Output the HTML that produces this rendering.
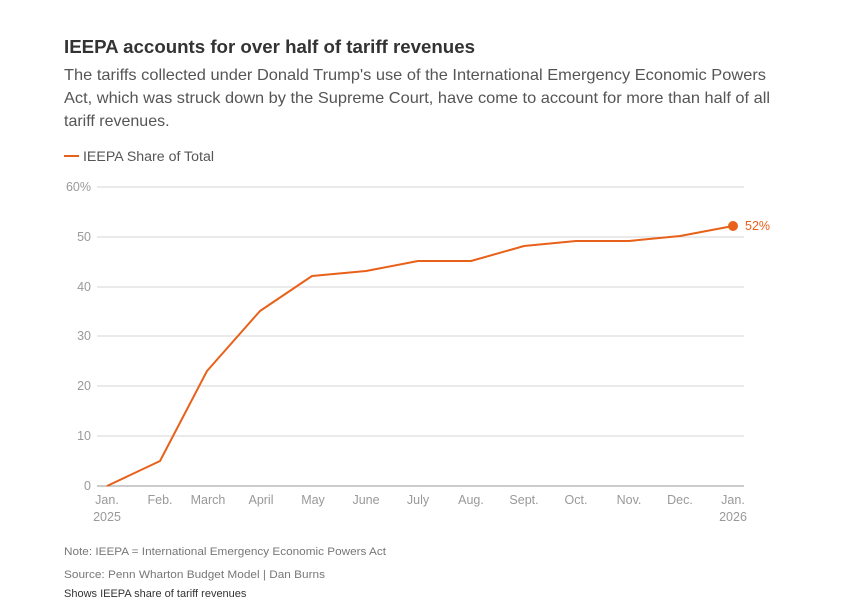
<!DOCTYPE html>
<html><head><meta charset="utf-8"><style>
body{margin:0;background:#fff;}
svg{display:block;font-family:"Liberation Sans",sans-serif;}
</style></head><body>
<svg width="842" height="602" viewBox="0 0 842 602" xmlns="http://www.w3.org/2000/svg">
<rect width="842" height="602" fill="#fff"/>
<text x="64" y="53" font-size="18.5" font-weight="bold" fill="#333" textLength="411" lengthAdjust="spacingAndGlyphs">IEEPA accounts for over half of tariff revenues</text>
<g font-size="16" fill="#555">
<text x="64" y="80" textLength="702" lengthAdjust="spacingAndGlyphs">The tariffs collected under Donald Trump's use of the International Emergency Economic Powers</text>
<text x="64" y="103" textLength="706" lengthAdjust="spacingAndGlyphs">Act, which was struck down by the Supreme Court, have come to account for more than half of all</text>
<text x="64" y="126">tariff revenues.</text>
</g>
<line x1="64" y1="156" x2="79" y2="156" stroke="#e8611a" stroke-width="2"/>
<text x="83" y="161" font-size="13.5" fill="#555" textLength="131" lengthAdjust="spacingAndGlyphs">IEEPA Share of Total</text>
<g stroke="#d6d6d6" stroke-width="1">
<line x1="97" y1="187" x2="744" y2="187"/>
<line x1="97" y1="237" x2="744" y2="237"/>
<line x1="97" y1="287" x2="744" y2="287"/>
<line x1="97" y1="336" x2="744" y2="336"/>
<line x1="97" y1="386" x2="744" y2="386"/>
<line x1="97" y1="436" x2="744" y2="436"/>
</g>
<line x1="97" y1="486" x2="744" y2="486" stroke="#999" stroke-width="1"/>
<g font-size="12.5" fill="#999" text-anchor="end">
<text x="91" y="191">60%</text>
<text x="91" y="241">50</text>
<text x="91" y="291">40</text>
<text x="91" y="340">30</text>
<text x="91" y="390">20</text>
<text x="91" y="440">10</text>
<text x="91" y="490">0</text>
</g>
<g font-size="12.5" fill="#999" text-anchor="middle">
<text x="107" y="504">Jan.</text><text x="107" y="521">2025</text>
<text x="160" y="504">Feb.</text>
<text x="208" y="504">March</text>
<text x="261" y="504">April</text>
<text x="313" y="504">May</text>
<text x="366" y="504">June</text>
<text x="418" y="504">July</text>
<text x="471" y="504">Aug.</text>
<text x="524" y="504">Sept.</text>
<text x="576" y="504">Oct.</text>
<text x="629" y="504">Nov.</text>
<text x="680" y="504">Dec.</text>
<text x="733" y="504">Jan.</text><text x="733" y="521">2026</text>
</g>
<polyline fill="none" stroke="#e8611a" stroke-width="2" stroke-linejoin="round" points="107,486 160,461 207,371 260,311 312,276 366,271 418,261 471,261 524,246 576,241 629,241 680,236 733,226"/>
<circle cx="733" cy="226" r="5" fill="#e8611a"/>
<text x="745" y="230" font-size="12.5" fill="#e8611a">52%</text>
<g font-size="11" fill="#777">
<text x="64" y="555" textLength="322" lengthAdjust="spacingAndGlyphs">Note: IEEPA = International Emergency Economic Powers Act</text>
<text x="64" y="578" textLength="261" lengthAdjust="spacingAndGlyphs">Source: Penn Wharton Budget Model | Dan Burns</text>
<text x="64" y="597" fill="#333">Shows IEEPA share of tariff revenues</text>
</g>
</svg>
</body></html>
